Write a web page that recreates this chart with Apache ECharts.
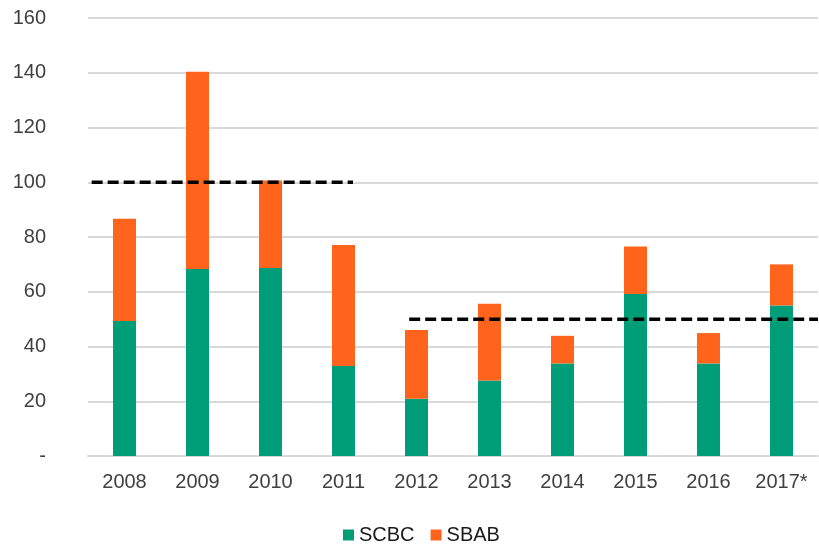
<!DOCTYPE html>
<html>
<head>
<meta charset="utf-8">
<script src="https://cdn.jsdelivr.net/npm/echarts@6/dist/echarts.min.js"></script>
<style>
  html, body { margin: 0; padding: 0; background: #fff; }
  #chart { width: 819px; height: 546px; }
</style>
</head>
<body>
<div id="chart"></div>
<script>
// Yearly volumes, stacked by issuer
const years = ['2008', '2009', '2010', '2011', '2012', '2013', '2014', '2015', '2016', '2017*'];
const scbc = [49.3, 68.3, 68.7, 32.9, 20.9, 27.6, 33.8, 59.2, 33.8, 55.0];
const sbab = [37.4, 72.1, 31.9, 44.2, 25.1, 28.0, 10.1, 17.3, 11.1, 15.0];

// Target levels, with their start/end along the category span (0 = left edge, 10 = right edge)
const targetEarly = [[0.05, 100], [3.63, 100]];
const targetLate = [[4.4, 50], [10, 50]];

const yTicks = { min: 0, max: 160, step: 20 };

const textColor = '#404040';
const gridColor = '#d9d9d9';
const font = 'Liberation Sans, Arial, sans-serif';

const chart = echarts.init(document.getElementById('chart'), null, { renderer: 'canvas' });

chart.setOption({
  animation: false,
  backgroundColor: '#ffffff',
  textStyle: { fontFamily: font },
  grid: { left: 88, right: 1, top: 18, bottom: 90, containLabel: false },
  legend: {
    data: ['SCBC', 'SBAB'],
    bottom: -4,
    left: 338,
    itemWidth: 11,
    itemHeight: 11,
    itemGap: 16,
    icon: 'rect',
    textStyle: { fontSize: 20, color: '#1a1a1a', fontFamily: font }
  },
  xAxis: [
    {
      type: 'category',
      data: years,
      axisTick: { show: false },
      axisLine: { lineStyle: { color: gridColor, width: 2 } },
      axisLabel: { fontSize: 20, color: textColor, margin: 16, fontFamily: font }
    },
    {
      type: 'value',
      min: 0,
      max: 10,
      show: false
    }
  ],
  yAxis: {
    type: 'value',
    min: yTicks.min,
    max: yTicks.max,
    interval: yTicks.step,
    axisLine: { show: false },
    axisTick: { show: false },
    splitLine: { lineStyle: { color: gridColor, width: 2 } },
    axisLabel: {
      fontSize: 20,
      color: textColor,
      margin: 42,
      align: 'right',
      fontFamily: font,
      formatter: v => (v === 0 ? '-' : String(v))
    }
  },
  series: [
    {
      name: 'SCBC',
      type: 'bar',
      stack: 'total',
      data: scbc,
      barWidth: 23,
      itemStyle: { color: '#009e78' }
    },
    {
      name: 'SBAB',
      type: 'bar',
      stack: 'total',
      data: sbab,
      barWidth: 23,
      itemStyle: { color: '#ff631c' }
    },
    {
      name: 'target-early',
      type: 'line',
      xAxisIndex: 1,
      data: targetEarly,
      symbol: 'none',
      z: 5,
      lineStyle: { color: '#000', width: 3.5, type: [11, 5] }
    },
    {
      name: 'target-late',
      type: 'line',
      xAxisIndex: 1,
      data: targetLate,
      symbol: 'none',
      z: 5,
      lineStyle: { color: '#000', width: 3.5, type: [11, 5] }
    }
  ]
});
</script>
</body>
</html>
